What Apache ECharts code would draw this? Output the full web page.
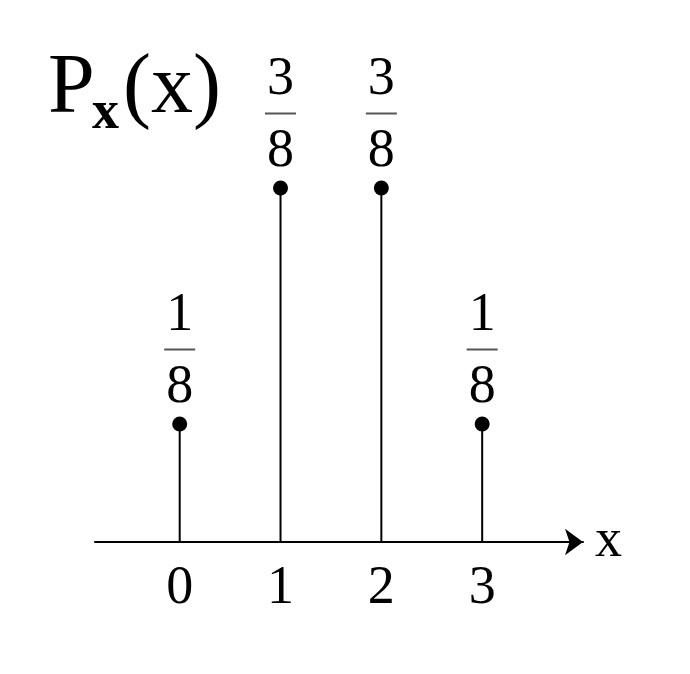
<!DOCTYPE html>
<html><head><meta charset="utf-8">
<script src="https://cdn.jsdelivr.net/npm/echarts@6/dist/echarts.min.js"></script>
<style>html,body{margin:0;padding:0;background:#fff}#c{width:690px;height:674px}</style>
</head><body><div id="c"></div>
<script>
const xValues = [0, 1, 2, 3];
const probs = [0.125, 0.375, 0.375, 0.125];
const numerators = ['1', '3', '3', '1'];
const denominators = ['8', '8', '8', '8'];
const tickLabels = ['0', '1', '2', '3'];
const FONT = '"Liberation Serif", "DejaVu Serif", serif';

const chart = echarts.init(document.getElementById('c'));
const pts = xValues.map((x, i) => [x, probs[i]]);
chart.setOption({
  animation: false,
  backgroundColor: '#fff',
  grid: { left: 95, right: 107, top: 70, bottom: 132, containLabel: false },
  xAxis: {
    type: 'value', min: -0.84, max: 4,
    name: 'x', nameLocation: 'end', nameGap: 12,
    nameTextStyle: { fontFamily: FONT, fontSize: 54, color: '#000', padding: [0, 0, 10, 0] },
    axisLine: { show: true, onZero: false, symbol: ['none', 'arrow'], symbolSize: [20, 18], lineStyle: { color: '#000', width: 2 } },
    axisTick: { show: false },
    splitLine: { show: false },
    axisLabel: {
      customValues: xValues,
      formatter: v => tickLabels[xValues.indexOf(v)] ?? '',
      fontFamily: FONT, fontSize: 54, color: '#000', margin: 20
    }
  },
  yAxis: { type: 'value', min: 0, max: 0.5, show: false, splitLine: { show: false } },
  series: [
    {
      type: 'bar', data: pts, barWidth: 2, itemStyle: { color: '#000' }, silent: true
    },
    {
      type: 'scatter', data: pts, symbol: 'circle', symbolSize: 15,
      itemStyle: { color: '#000', opacity: 1 },
      label: {
        show: true, position: 'top', distance: 2, opacity: 1,
        formatter: p => '{n|' + numerators[p.dataIndex] + '}\n{b|}\n{d|' + denominators[p.dataIndex] + '}',
        rich: {
          n: { fontFamily: FONT, fontSize: 54, color: '#000', lineHeight: 46, align: 'center' },
          b: { width: 31, height: 2, backgroundColor: '#555', lineHeight: 22, align: 'center' },
          d: { fontFamily: FONT, fontSize: 54, color: '#000', lineHeight: 54, align: 'center' }
        }
      }
    }
  ],
  graphic: [
    { type: 'text', left: 48, top: 48, style: { text: 'P', font: '84px ' + FONT, fill: '#000' } },
    { type: 'text', left: 92, top: 87, style: { text: 'x', font: 'bold 54px ' + FONT, fill: '#000' } },
    { type: 'text', left: 123, top: 48, style: { text: '(x)', font: '84px ' + FONT, fill: '#000' } }
  ]
});
</script></body></html>
